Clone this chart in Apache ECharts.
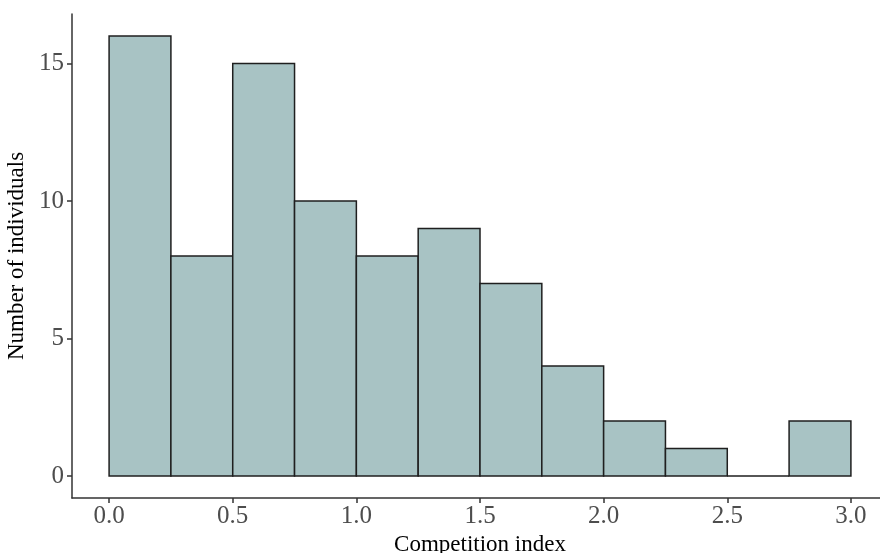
<!DOCTYPE html>
<html>
<head>
<meta charset="utf-8">
<script src="https://cdn.jsdelivr.net/npm/echarts@6/dist/echarts.min.js"></script>
<style>
html,body{margin:0;padding:0;background:#fff;}
#chart{width:880px;height:553px;}
</style>
</head>
<body>
<div id="chart"></div>
<script>
// Histogram bins (width 0.25) and counts per bin
const binStarts = [0.00, 0.25, 0.50, 0.75, 1.00, 1.25, 1.50, 1.75, 2.00, 2.25, 2.50, 2.75];
const binWidth = 0.25;
const counts = [16, 8, 15, 10, 8, 9, 7, 4, 2, 1, 0, 2];
const xTicks = [0, 0.5, 1, 1.5, 2, 2.5, 3];
const yTicks = [0, 5, 10, 15];

const barData = binStarts.map((s, i) => [s, s + binWidth, counts[i]]);

const serif = '"Liberation Serif", "DejaVu Serif", serif';
const chart = echarts.init(document.getElementById('chart'));

chart.setOption({
  animation: false,
  backgroundColor: '#ffffff',
  grid: { left: 72, right: -8, top: 14, bottom: 55, containLabel: false, outerBoundsMode: 'none' },
  xAxis: {
    type: 'value',
    min: -0.15,
    max: 3.15,
    name: 'Competition index',
    nameLocation: 'middle',
    nameGap: 34,
    nameTextStyle: { fontFamily: serif, fontSize: 23, color: '#000' },
    axisLine: { show: true, onZero: false, lineStyle: { color: '#333', width: 1.5 } },
    axisTick: { show: true, length: 5, lineStyle: { color: '#333', width: 1.5 }, customValues: xTicks },
    axisLabel: {
      fontFamily: serif, fontSize: 25, color: '#4d4d4d', margin: 6,
      customValues: xTicks,
      formatter: v => v.toFixed(1)
    },
    splitLine: { show: false }
  },
  yAxis: {
    type: 'value',
    min: -0.8,
    max: 16.8,
    name: 'Number of individuals',
    nameLocation: 'middle',
    nameGap: 43,
    nameTextStyle: { fontFamily: serif, fontSize: 23, color: '#000' },
    axisLine: { show: true, onZero: false, lineStyle: { color: '#333', width: 1.5 } },
    axisTick: { show: true, length: 5, lineStyle: { color: '#333', width: 1.5 }, customValues: yTicks },
    axisLabel: {
      fontFamily: serif, fontSize: 25, color: '#4d4d4d', margin: 8,
      customValues: yTicks
    },
    splitLine: { show: false }
  },
  series: [{
    type: 'custom',
    data: barData,
    clip: false,
    renderItem: function (params, api) {
      const p0 = api.coord([api.value(0), 0]);
      const p1 = api.coord([api.value(1), api.value(2)]);
      return {
        type: 'rect',
        shape: { x: p0[0], y: p1[1], width: p1[0] - p0[0], height: p0[1] - p1[1] },
        style: { fill: '#a8c3c4', stroke: '#1f1f1f', lineWidth: 1.5 }
      };
    }
  }]
});
</script>
</body>
</html>
